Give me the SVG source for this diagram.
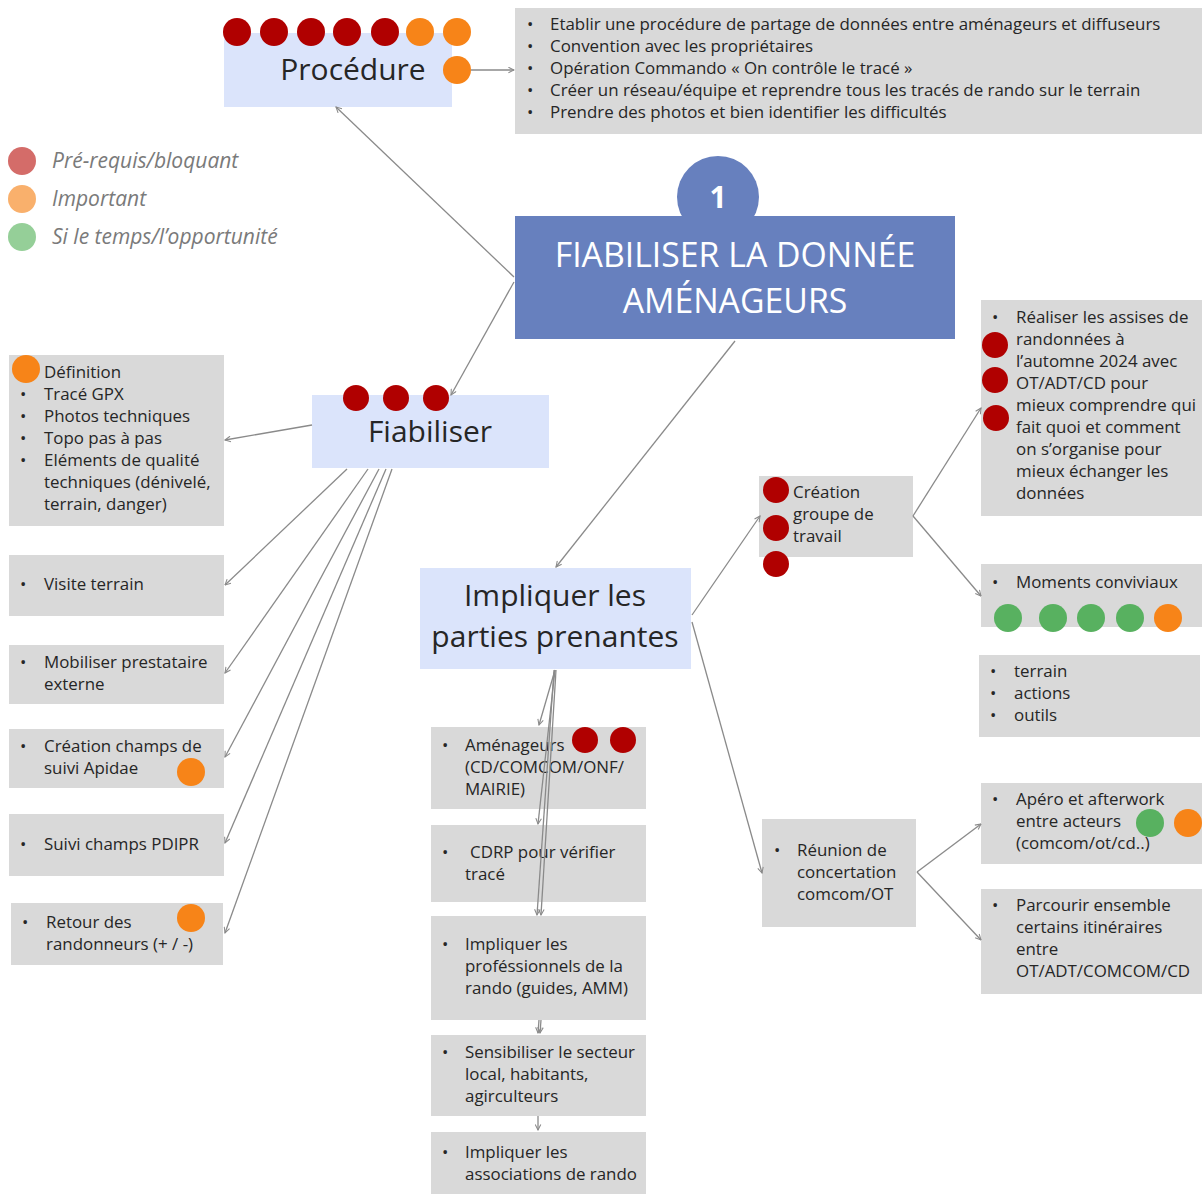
<svg xmlns="http://www.w3.org/2000/svg" width="1202" height="1194" viewBox="0 0 1202 1194">
<style>
text{font-family:"Open Sans","DejaVu Sans",sans-serif;fill:#262626}
.t{font-size:16.9px}
.big{font-size:30px}
.g{fill:#d9d9d9}
.b{fill:#dbe4fb}
.red{fill:#b00000}
.or{fill:#f78418}
.gr{fill:#58b160}
.leg{font-size:21px;font-style:italic;fill:#7a7a7a}
.c line{stroke:#8a8a8a;stroke-width:1.3;marker-end:url(#a)}
</style>
<defs>
<marker id="a" viewBox="0 0 10 10" refX="9" refY="5" markerWidth="7" markerHeight="7" orient="auto" markerUnits="userSpaceOnUse"><path d="M1,1 L9,5 L1,9" fill="none" stroke="#8a8a8a" stroke-width="1.5"/></marker>
</defs>
<rect width="1202" height="1194" fill="#fff"/>

<g id="legend">
<circle cx="22" cy="161" r="14" fill="#d46c69"/>
<circle cx="22" cy="199" r="14" fill="#f9b06c"/>
<circle cx="22" cy="237" r="14" fill="#95cf98"/>
<text class="leg" x="52" y="168">Pré-requis/bloquant</text>
<text class="leg" x="52" y="206">Important</text>
<text class="leg" x="52" y="244">Si le temps/l’opportunité</text>
</g>

<g id="main">
<circle cx="718" cy="197" r="41" fill="#6780be"/>
<rect x="515" y="216" width="440" height="123" fill="#6780be"/>
<text x="718" y="208" text-anchor="middle" style="font-size:30px;font-weight:bold;fill:#fff">1</text>
<text x="735" y="267" text-anchor="middle" style="font-size:33.8px;fill:#fff">FIABILISER LA DONNÉE</text>
<text x="735" y="313" text-anchor="middle" style="font-size:33.8px;fill:#fff">AMÉNAGEURS</text>
</g>

<g id="procedure">
<rect class="b" x="224" y="33" width="228" height="74"/>
<text class="big" x="353" y="80" text-anchor="middle">Procédure</text>
<circle class="red" cx="237" cy="32" r="14"/>
<circle class="red" cx="274" cy="32" r="14"/>
<circle class="red" cx="311" cy="32" r="14"/>
<circle class="red" cx="347" cy="32" r="14"/>
<circle class="red" cx="385" cy="32" r="14"/>
<circle class="or" cx="420" cy="32" r="14"/>
<circle class="or" cx="457" cy="32" r="14"/>
<circle class="or" cx="457" cy="70" r="14"/>
</g>

<g id="procedure-list">
<rect class="g" x="515" y="8" width="687" height="126"/>
<g class="t">
<text x="527" y="30">•</text><text x="550" y="30">Etablir une procédure de partage de données entre aménageurs et diffuseurs</text>
<text x="527" y="52">•</text><text x="550" y="52">Convention avec les propriétaires</text>
<text x="527" y="74">•</text><text x="550" y="74">Opération Commando « On contrôle le tracé »</text>
<text x="527" y="96">•</text><text x="550" y="96">Créer un réseau/équipe et reprendre tous les tracés de rando sur le terrain</text>
<text x="527" y="118">•</text><text x="550" y="118">Prendre des photos et bien identifier les difficultés</text>
</g>
</g>

<g id="fiabiliser">
<rect class="b" x="312" y="395" width="237" height="73"/>
<text class="big" x="430" y="442" text-anchor="middle">Fiabiliser</text>
<circle class="red" cx="356" cy="398" r="13"/>
<circle class="red" cx="396" cy="398" r="13"/>
<circle class="red" cx="436" cy="398" r="13"/>
</g>

<g id="definition">
<rect class="g" x="9" y="355" width="215" height="171"/>
<circle class="or" cx="26" cy="369" r="14"/>
<g class="t">
<text x="44" y="378">Définition</text>
<text x="20" y="400">•</text><text x="44" y="400">Tracé GPX</text>
<text x="20" y="422">•</text><text x="44" y="422">Photos techniques</text>
<text x="20" y="444">•</text><text x="44" y="444">Topo pas à pas</text>
<text x="20" y="466">•</text><text x="44" y="466">Eléments de qualité</text>
<text x="44" y="488">techniques (dénivelé,</text>
<text x="44" y="510">terrain, danger)</text>
</g>
</g>

<g id="visite">
<rect class="g" x="9" y="555" width="215" height="61"/>
<g class="t"><text x="20" y="590">•</text><text x="44" y="590">Visite terrain</text></g>
</g>

<g id="mobiliser">
<rect class="g" x="9" y="645" width="215" height="59"/>
<g class="t"><text x="20" y="668">•</text><text x="44" y="668">Mobiliser prestataire</text><text x="44" y="690">externe</text></g>
</g>

<g id="apidae">
<rect class="g" x="9" y="729" width="215" height="59"/>
<g class="t"><text x="20" y="752">•</text><text x="44" y="752">Création champs de</text><text x="44" y="774">suivi Apidae</text></g>
<circle class="or" cx="191" cy="772" r="14"/>
</g>

<g id="pdipr">
<rect class="g" x="9" y="814" width="215" height="62"/>
<g class="t"><text x="20" y="850">•</text><text x="44" y="850">Suivi champs PDIPR</text></g>
</g>

<g id="retour">
<rect class="g" x="11" y="903" width="212" height="62"/>
<g class="t"><text x="22" y="928">•</text><text x="46" y="928">Retour des</text><text x="46" y="950">randonneurs (+ / -)</text></g>
<circle class="or" cx="191" cy="918" r="14"/>
</g>

<g id="impliquer">
<rect class="b" x="420" y="568" width="271" height="101"/>
<text class="big" x="555" y="606" text-anchor="middle">Impliquer les</text>
<text class="big" x="555" y="647" text-anchor="middle">parties prenantes</text>
</g>

<g id="amenageurs">
<rect class="g" x="431" y="727" width="215" height="82"/>
<g class="t"><text x="442" y="751">•</text><text x="465" y="751">Aménageurs</text><text x="465" y="773">(CD/COMCOM/ONF/</text><text x="465" y="795">MAIRIE)</text></g>
<circle class="red" cx="585" cy="740" r="13"/>
<circle class="red" cx="623" cy="740" r="13"/>
</g>

<g id="cdrp">
<rect class="g" x="431" y="825" width="215" height="77"/>
<g class="t"><text x="442" y="858">•</text><text x="470" y="858">CDRP pour vérifier</text><text x="465" y="880">tracé</text></g>
</g>

<g id="pros">
<rect class="g" x="431" y="916" width="215" height="104"/>
<g class="t"><text x="442" y="950">•</text><text x="465" y="950">Impliquer les</text><text x="465" y="972">proféssionnels de la</text><text x="465" y="994">rando (guides, AMM)</text></g>
</g>

<g id="sensibiliser">
<rect class="g" x="431" y="1035" width="215" height="81"/>
<g class="t"><text x="442" y="1058">•</text><text x="465" y="1058">Sensibiliser le secteur</text><text x="465" y="1080">local, habitants,</text><text x="465" y="1102">agirculteurs</text></g>
</g>

<g id="associations">
<rect class="g" x="431" y="1132" width="215" height="62"/>
<g class="t"><text x="442" y="1158">•</text><text x="465" y="1158">Impliquer les</text><text x="465" y="1180">associations de rando</text></g>
</g>

<g id="groupe">
<rect class="g" x="759" y="476" width="154" height="81"/>
<g class="t"><text x="793" y="498">Création</text><text x="793" y="520">groupe de</text><text x="793" y="542">travail</text></g>
<circle class="red" cx="776" cy="490" r="13"/>
<circle class="red" cx="776" cy="528" r="13"/>
<circle class="red" cx="776" cy="564" r="13"/>
</g>

<g id="assises">
<rect class="g" x="981" y="300" width="221" height="216"/>
<g class="t">
<text x="992" y="323">•</text><text x="1016" y="323">Réaliser les assises de</text>
<text x="1016" y="345">randonnées à</text>
<text x="1016" y="367">l’automne 2024 avec</text>
<text x="1016" y="389">OT/ADT/CD pour</text>
<text x="1016" y="411">mieux comprendre qui</text>
<text x="1016" y="433">fait quoi et comment</text>
<text x="1016" y="455">on s’organise pour</text>
<text x="1016" y="477">mieux échanger les</text>
<text x="1016" y="499">données</text>
</g>
<circle class="red" cx="995" cy="345" r="13"/>
<circle class="red" cx="995" cy="380" r="13"/>
<circle class="red" cx="996" cy="418" r="13"/>
</g>

<g id="conviviaux">
<rect class="g" x="981" y="564" width="221" height="63"/>
<g class="t"><text x="992" y="588">•</text><text x="1016" y="588">Moments conviviaux</text></g>
<circle class="gr" cx="1008" cy="618" r="14"/>
<circle class="gr" cx="1053" cy="618" r="14"/>
<circle class="gr" cx="1091" cy="618" r="14"/>
<circle class="gr" cx="1130" cy="618" r="14"/>
<circle class="or" cx="1168" cy="618" r="14"/>
</g>

<g id="terrain">
<rect class="g" x="979" y="655" width="221" height="82"/>
<g class="t"><text x="990" y="677">•</text><text x="1014" y="677">terrain</text><text x="990" y="699">•</text><text x="1014" y="699">actions</text><text x="990" y="721">•</text><text x="1014" y="721">outils</text></g>
</g>

<g id="reunion">
<rect class="g" x="762" y="819" width="154" height="108"/>
<g class="t"><text x="774" y="856">•</text><text x="797" y="856">Réunion de</text><text x="797" y="878">concertation</text><text x="797" y="900">comcom/OT</text></g>
</g>

<g id="apero">
<rect class="g" x="981" y="783" width="221" height="81"/>
<g class="t"><text x="992" y="805">•</text><text x="1016" y="805">Apéro et afterwork</text><text x="1016" y="827">entre acteurs</text><text x="1016" y="849">(comcom/ot/cd..)</text></g>
<circle class="gr" cx="1150" cy="823" r="14"/>
<circle class="or" cx="1188" cy="823" r="14"/>
</g>

<g id="parcourir">
<rect class="g" x="981" y="889" width="221" height="105"/>
<g class="t"><text x="992" y="911">•</text><text x="1016" y="911">Parcourir ensemble</text><text x="1016" y="933">certains itinéraires</text><text x="1016" y="955">entre</text><text x="1016" y="977">OT/ADT/COMCOM/CD</text></g>
</g>

<g id="connectors" class="c">
<line x1="471" y1="70" x2="514" y2="70"/>
<line x1="514" y1="277" x2="336" y2="107"/>
<line x1="514" y1="282" x2="451" y2="395"/>
<line x1="735" y1="341" x2="556" y2="567"/>
<line x1="312" y1="425" x2="225" y2="440"/>
<line x1="347" y1="469" x2="225" y2="585"/>
<line x1="368" y1="469" x2="225" y2="673"/>
<line x1="379" y1="469" x2="225" y2="757"/>
<line x1="386" y1="469" x2="225" y2="843"/>
<line x1="392" y1="469" x2="225" y2="933"/>
<line x1="555" y1="670" x2="539" y2="725"/>
<line x1="555" y1="670" x2="538" y2="824"/>
<line x1="554" y1="670" x2="537" y2="915"/>
<line x1="556" y1="670" x2="541" y2="915"/>
<line x1="539" y1="1020" x2="538" y2="1033"/>
<line x1="541" y1="1020" x2="540" y2="1033"/>
<line x1="538" y1="1116" x2="538" y2="1130"/>
<line x1="692" y1="615" x2="760" y2="516"/>
<line x1="692" y1="622" x2="762" y2="873"/>
<line x1="913" y1="516" x2="981" y2="408"/>
<line x1="913" y1="516" x2="981" y2="596"/>
<line x1="917" y1="872" x2="981" y2="824"/>
<line x1="917" y1="872" x2="981" y2="940"/>
</g>
</svg>
